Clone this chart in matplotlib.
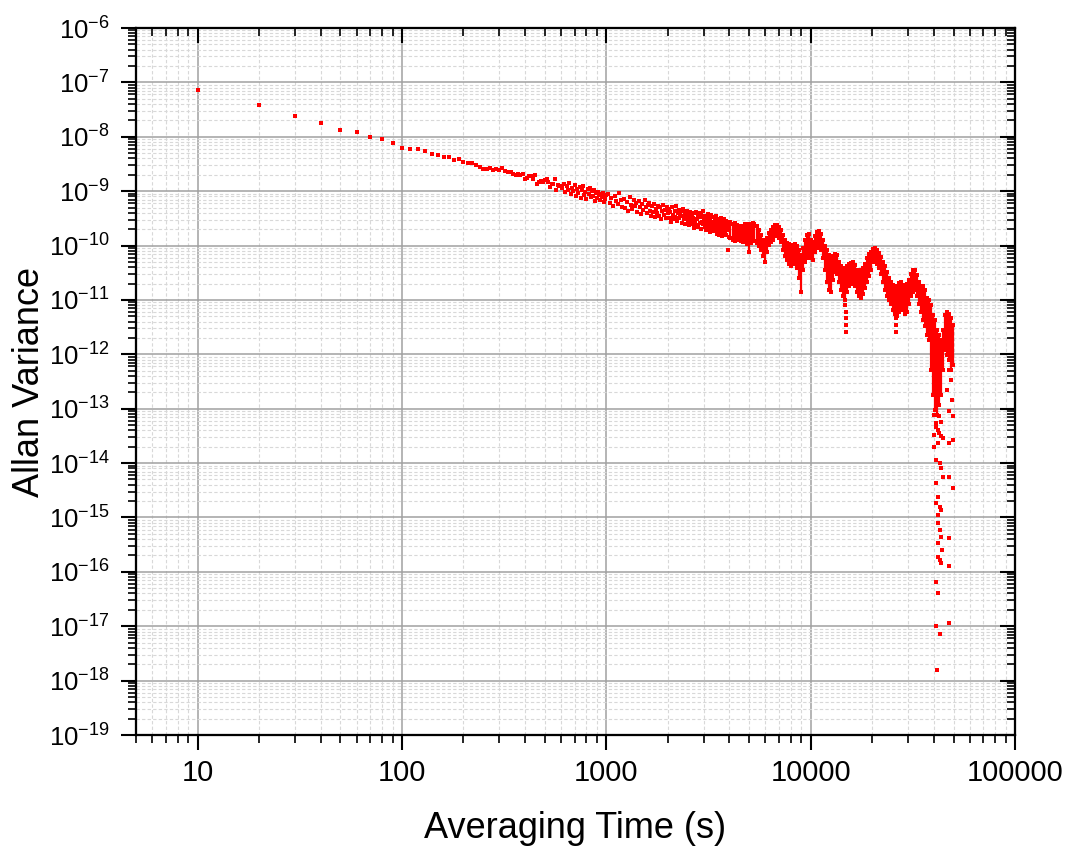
import numpy as np
import matplotlib
import matplotlib.pyplot as plt
from matplotlib.ticker import LogLocator, NullFormatter, FuncFormatter

matplotlib.use('Agg')
plt.rcParams['font.family'] = ['Liberation Sans', 'DejaVu Sans']
plt.rcParams['mathtext.fontset'] = 'custom'
plt.rcParams['mathtext.rm'] = 'Liberation Sans'

# averaging time (s) and log10 of the Allan variance
tau_short = [10, 20, 30, 40, 50, 60, 70, 80, 90, 100,
             110, 120, 130, 140, 150, 160, 170, 180, 190, 200,
             210, 220, 230, 240, 250, 260, 270, 280, 290, 300,
             310, 320, 330, 340, 350, 360, 370, 380, 390, 400,
             410, 420, 430, 440, 450, 460, 470, 480, 490, 500,
             510, 520, 530, 540, 550, 560, 570, 580, 590, 600,
             610, 620, 630, 640, 650, 660, 670, 680, 690, 700,
             710, 720, 730, 740, 750, 760, 770, 780, 790, 800,
             810, 820, 830, 840, 850, 860, 870, 880, 890, 900,
             910, 920, 930, 940, 950, 960, 970, 980, 990, 1000]
avar_short_exp = [-7.14, -7.42, -7.62, -7.74, -7.87, -7.92, -8.00, -8.05, -8.11, -8.20,
                  -8.23, -8.23, -8.27, -8.31, -8.34, -8.38, -8.38, -8.43, -8.40, -8.46,
                  -8.49, -8.49, -8.52, -8.56, -8.60, -8.60, -8.57, -8.62, -8.60, -8.62,
                  -8.58, -8.63, -8.65, -8.65, -8.68, -8.70, -8.68, -8.71, -8.69, -8.78,
                  -8.75, -8.73, -8.72, -8.77, -8.70, -8.86, -8.83, -8.81, -8.84, -8.80,
                  -8.78, -8.83, -8.92, -8.87, -8.86, -8.78, -8.98, -8.89, -8.91, -8.90,
                  -8.94, -8.87, -9.02, -8.90, -8.98, -8.85, -9.05, -8.94, -8.99, -8.89,
                  -9.09, -8.96, -9.03, -8.92, -9.13, -8.98, -8.90, -9.07, -9.02, -9.14,
                  -8.96, -9.05, -8.94, -9.11, -8.99, -9.09, -8.98, -9.18, -9.03, -9.13,
                  -9.02, -9.07, -9.16, -9.05, -9.11, -9.03, -9.20, -9.09, -9.14, -9.07]

tau_mid = [1020, 1040, 1060, 1080, 1100, 1120, 1140, 1160, 1180, 1200,
           1220, 1240, 1260, 1280, 1300, 1320, 1340, 1360, 1380, 1400,
           1420, 1440, 1460, 1480, 1500, 1520, 1540, 1560, 1580, 1600,
           1620, 1640, 1660, 1680, 1700, 1720, 1740, 1760, 1780, 1800,
           1820, 1840, 1860, 1880, 1900, 1920, 1940, 1960, 1980, 2000,
           2020, 2040, 2060, 2080, 2100, 2120, 2140, 2160, 2180, 2200,
           2220, 2240, 2260, 2280, 2300,
           2320, 2340, 2360, 2380, 2400, 2420, 2440, 2460, 2480, 2500,
           2520, 2540, 2560, 2580, 2600,
           2620, 2640, 2660, 2680, 2700, 2720, 2740, 2760, 2780, 2800,
           2820, 2840, 2860, 2880, 2900, 2920, 2940, 2960, 2980, 3000,
           3020, 3040, 3060, 3080, 3100, 3120, 3140, 3160, 3180, 3200,
           3220, 3240, 3260, 3280, 3300, 3320, 3340, 3360, 3380, 3400,
           3420, 3440, 3460, 3480, 3500,
           3520, 3540, 3560, 3580, 3600, 3620, 3640, 3660, 3680, 3700,
           3720, 3740, 3760, 3780, 3800, 3820, 3840, 3860, 3880, 3900,
           3920, 3940, 3960, 3980, 4000]
avar_mid_exp = [-9.05, -9.21, -9.12, -9.27, -9.09, -9.18, -9.24, -9.03, -9.16, -9.29,
                -9.14, -9.31, -9.20, -9.36, -9.11, -9.25, -9.33, -9.17, -9.28, -9.22,
                -9.38, -9.19, -9.30, -9.42, -9.24, -9.34, -9.16, -9.29, -9.40, -9.26,
                -9.21, -9.37, -9.45, -9.28, -9.39, -9.24, -9.48, -9.33, -9.41, -9.27,
                -9.46, -9.30, -9.52, -9.36, -9.25, -9.43, -9.34, -9.50, -9.29, -9.41,
                -9.33, -9.49, -9.38, -9.56, -9.30, -9.44, -9.52, -9.36, -9.47, -9.28,
                -9.55, -9.41, -9.34, -9.50, -9.43,
                -9.37, -9.58, -9.45, -9.33, -9.52, -9.40, -9.61, -9.47, -9.36, -9.55,
                -9.43, -9.62, -9.39, -9.50, -9.57,
                -9.44, -9.60, -9.49, -9.67, -9.41, -9.55, -9.63, -9.38, -9.52, -9.46,
                -9.66, -9.40, -9.58, -9.48, -9.70, -9.43, -9.56, -9.37, -9.61, -9.50,
                -9.45, -9.66, -9.53, -9.72, -9.48, -9.61, -9.42, -9.68, -9.55, -9.75,
                -9.50, -9.63, -9.44, -9.70, -9.57, -9.66, -9.47, -9.74, -9.59, -9.52,
                -9.69, -9.46, -9.64, -9.78, -9.56,
                -9.51, -9.72, -9.60, -9.80, -9.55, -9.67, -9.49, -9.75, -9.62, -9.83,
                -9.57, -9.70, -9.52, -9.78, -9.64, -9.73, -9.55, -9.81, -9.66, -9.59,
                -10.08, -9.71, -9.62, -9.84, -9.68]

# dense part: upper and lower edge of the point cloud per averaging time
tau_band = [4050, 4150, 4240, 4340, 4440, 4540, 4640, 4750, 4860, 4970,
            5080, 5200, 5310, 5440, 5560, 5690, 5820, 5950, 6090, 6220,
            6370, 6510, 6660, 6810, 6970, 7130, 7290, 7460, 7630, 7800,
            7980, 8160, 8350, 8540, 8730, 8930, 9130, 9340, 9560, 9770,
            10000, 10230, 10460, 10700, 10940, 11190, 11450, 11710, 11980, 12250,
            12530, 12810, 13110, 13410, 13710, 14030, 14350, 14670, 15010, 15350,
            15700, 16060, 16430, 16800, 17180, 17580, 17980, 18390, 18810, 19240,
            19680, 20130, 20590, 21060, 21540, 22030, 22530, 23040, 23570, 24110,
            24660, 25220, 25800, 26390, 26990, 27610, 28240, 28880, 29540, 30210,
            30900, 31610, 32330, 33070, 33820, 34600, 35390, 36190, 37020, 37860,
            38730, 39610, 40520, 41440, 42390, 43360, 44350, 45360, 46390, 47450,
            48540, 49640]
band_hi_exp = [-9.57, -9.60, -9.58, -9.62, -9.64, -9.68, -9.64, -9.60, -9.60, -9.62,
               -9.60, -9.58, -9.60, -9.64, -9.71, -9.80, -9.90, -9.93, -9.86, -9.77,
               -9.71, -9.66, -9.62, -9.62, -9.66, -9.71, -9.80, -9.90, -9.95, -9.97,
               -9.99, -10.00, -9.97, -10.00, -10.08, -10.17, -10.04, -9.90, -9.80, -9.79,
               -9.90, -9.93, -9.82, -9.75, -9.73, -9.79, -9.90, -10.00, -10.08, -10.17,
               -10.23, -10.19, -10.15, -10.17, -10.30, -10.37, -10.41, -10.45, -10.37, -10.34,
               -10.32, -10.30, -10.36, -10.45, -10.49, -10.45, -10.41, -10.34, -10.23, -10.15,
               -10.12, -10.06, -10.04, -10.08, -10.14, -10.21, -10.30, -10.37, -10.49, -10.60,
               -10.67, -10.72, -10.78, -10.74, -10.69, -10.67, -10.72, -10.76, -10.71, -10.63,
               -10.52, -10.45, -10.45, -10.54, -10.67, -10.74, -10.74, -10.82, -10.96, -11.00,
               -11.09, -11.28, -11.37, -11.55, -11.64, -11.74, -11.55, -11.28, -11.22, -11.26,
               -11.33, -11.46]
band_lo_exp = [-9.86, -9.90, -9.92, -9.90, -9.90, -9.92, -9.93, -9.90, -9.97, -10.12,
               -9.95, -9.90, -9.92, -9.95, -10.00, -10.08, -10.19, -10.30, -10.12, -9.99,
               -9.93, -9.90, -9.82, -9.82, -9.86, -9.93, -10.08, -10.19, -10.26, -10.34,
               -10.37, -10.30, -10.34, -10.41, -10.60, -10.85, -10.45, -10.30, -10.23, -10.17,
               -10.23, -10.26, -10.12, -10.04, -10.00, -10.08, -10.23, -10.45, -10.67, -10.82,
               -10.85, -10.63, -10.49, -10.52, -10.67, -10.82, -10.93, -11.00, -10.85, -10.74,
               -10.71, -10.67, -10.74, -10.85, -10.93, -10.96, -10.89, -10.78, -10.67, -10.56,
               -10.45, -10.30, -10.30, -10.34, -10.41, -10.52, -10.67, -10.82, -10.93, -11.00,
               -11.07, -11.18, -11.26, -11.29, -11.22, -11.15, -11.18, -11.26, -11.22, -11.07,
               -10.93, -10.85, -10.82, -10.93, -11.07, -11.22, -11.37, -11.48, -11.64, -11.74,
               -12.29, -12.75, -13.02, -13.11, -12.93, -12.75, -12.29, -11.92, -12.01, -12.10,
               -12.29, -12.19]

# isolated points: downward spikes and the tail between 40000 and 50000 s
tau_extra = [14800, 14820, 14840, 14860, 14880,
             26200, 26250, 26300,
             40200, 42500, 41000, 43400, 41800, 42500, 40200, 44200,
             41000, 40200, 42000, 43400, 41000, 42700, 43400, 44200, 47600, 49500, 47600, 49500,
             41000, 42000, 41000, 42700, 43400, 42000, 42000, 42700, 43400, 42000, 44000, 42000,
             42700, 43400, 47600, 47600,
             41000, 42000, 47600, 41000, 43000, 41500,
             47500, 48500, 46500, 48900, 47500, 49500]
avar_extra_exp = [-11.09, -11.22, -11.33, -11.46, -11.59,
                  -11.33, -11.46, -11.59,
                  -13.11, -13.14, -13.27, -13.24, -13.39, -13.45, -13.48, -13.54,
                  -13.33, -13.70, -13.63, -13.51, -13.94, -14.00, -14.09, -14.25, -13.63, -13.57, -14.25, -14.46,
                  -14.37, -14.62, -14.74, -14.80, -14.86, -14.95, -15.11, -15.23, -15.35, -15.47, -15.60, -15.72,
                  -15.78, -15.84, -15.38, -15.90,
                  -16.18, -16.39, -16.94, -17.00, -17.14, -17.80,
                  -12.29, -12.47, -12.65, -12.84, -13.05, -13.14]


def decade_locators(axis):
    axis.set_major_locator(LogLocator(base=10, numticks=40))
    axis.set_minor_locator(LogLocator(base=10, subs=(2, 3, 4, 5, 6, 7, 8, 9), numticks=40))
    axis.set_minor_formatter(NullFormatter())


fig = plt.figure(figsize=(10.67, 8.46), dpi=100)
ax = fig.add_axes([0.1275, 0.1312, 0.8238, 0.8357])
ax.set_xscale('log')
ax.set_yscale('log')
ax.set_xlim(5, 1e5)
ax.set_ylim(1e-19, 1e-6)

red = '#ff0000'
ax.vlines(tau_band, 10.0 ** np.array(band_lo_exp), 10.0 ** np.array(band_hi_exp),
          color=red, lw=1.6, zorder=3)
pts_tau = tau_short + tau_mid + tau_band + tau_band + tau_extra
pts_exp = avar_short_exp + avar_mid_exp + band_hi_exp + band_lo_exp + avar_extra_exp
ax.plot(pts_tau, 10.0 ** np.array(pts_exp), 's', color=red, ms=2.3, mew=0,
        linestyle='none', zorder=4)

decade_locators(ax.xaxis)
decade_locators(ax.yaxis)
ax.xaxis.set_major_formatter(FuncFormatter(lambda v, p: f'{v:.0f}'))

ax.grid(True, which='major', color='#a0a0a0', lw=1.1, ls='-')
ax.grid(True, which='minor', color='#d8d8d8', lw=0.8, ls=(0, (3, 2)))
ax.set_axisbelow(True)

ax.tick_params(which='major', direction='out', length=11, width=1.5)
ax.tick_params(which='minor', direction='out', length=6, width=1.2)
ax.tick_params(axis='x', which='major', labelsize=21, pad=6)
ax.tick_params(axis='y', which='major', labelsize=18.5, pad=8)
for sp in ax.spines.values():
    sp.set_linewidth(1.5)

# top and right: ticks pointing in, no labels
axt = ax.twiny()
axt.set_xscale('log')
axt.set_xlim(5, 1e5)
decade_locators(axt.xaxis)
axt.xaxis.set_major_formatter(NullFormatter())
axt.tick_params(axis='x', which='major', direction='in', length=11, width=1.5)
axt.tick_params(axis='x', which='minor', direction='in', length=6, width=1.2)

axr = ax.twinx()
axr.set_yscale('log')
axr.set_ylim(1e-19, 1e-6)
decade_locators(axr.yaxis)
axr.yaxis.set_major_formatter(NullFormatter())
axr.tick_params(axis='y', which='major', direction='in', length=11, width=1.5)
axr.tick_params(axis='y', which='minor', direction='in', length=6, width=1.2)
for a in (axt, axr):
    for sp in a.spines.values():
        sp.set_linewidth(1.5)

ax.set_xlabel('Averaging Time (s)', fontsize=26)
ax.set_ylabel('Allan Variance', fontsize=26)
ax.xaxis.set_label_coords(0.5, -0.108)
ax.yaxis.set_label_coords(-0.101, 0.5)

fig.savefig('out.png', dpi=100)
